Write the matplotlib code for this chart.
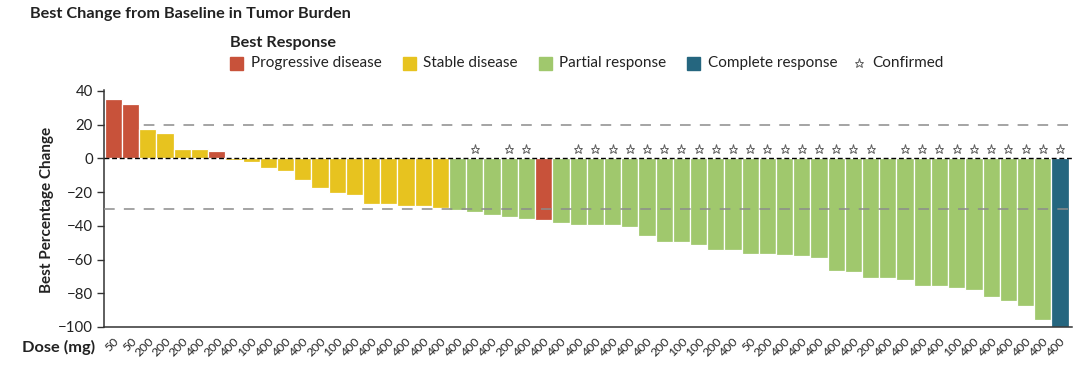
import matplotlib
matplotlib.use("Agg")
import matplotlib.pyplot as plt
from matplotlib.patches import Rectangle
from matplotlib.lines import Line2D

plt.rcParams['font.family'] = ['Lato', 'DejaVu Sans']

# ---- data ----
doses = ["50", "50", "200", "200", "200", "400", "200", "400", "100", "400",
         "400", "400", "200", "100", "400", "400", "400", "400", "400", "400",
         "400", "400", "400", "200", "400", "400", "400", "400", "400", "400",
         "400", "400", "200", "100", "100", "200", "400", "50", "200", "400",
         "400", "400", "400", "400", "200", "400", "400", "400", "400", "100",
         "400", "400", "400", "400", "400", "400"]

change = [35, 32, 17.5, 15, 5.7, 5.3, 4.3, -1.2, -2.4, -5.5,
          -7.8, -12.7, -17.5, -20.8, -21.8, -26.9, -27.3, -28.2, -28.2, -29.6,
          -30.7, -32, -33.8, -34.5, -35.7, -36.7, -38.5, -39.3, -39.3, -39.7,
          -40.5, -45.8, -49.4, -49.8, -51.6, -54.2, -54.2, -56.5, -56.5, -57.2,
          -58.2, -59.2, -66.7, -67.1, -70.7, -70.7, -72.4, -75.4, -75.8, -76.8,
          -78.0, -82.0, -84.5, -87.7, -95.8, -100]

response = ["PD", "PD", "SD", "SD", "SD", "SD", "PD", "SD", "SD", "SD",
            "SD", "SD", "SD", "SD", "SD", "SD", "SD", "SD", "SD", "SD",
            "PR", "PR", "PR", "PR", "PR", "PD", "PR", "PR", "PR", "PR",
            "PR", "PR", "PR", "PR", "PR", "PR", "PR", "PR", "PR", "PR",
            "PR", "PR", "PR", "PR", "PR", "PR", "PR", "PR", "PR", "PR",
            "PR", "PR", "PR", "PR", "PR", "CR"]

confirmed = [0, 0, 0, 0, 0, 0, 0, 0, 0, 0,
             0, 0, 0, 0, 0, 0, 0, 0, 0, 0,
             0, 1, 0, 1, 1, 0, 0, 1, 1, 1,
             1, 1, 1, 1, 1, 1, 1, 1, 1, 1,
             1, 1, 1, 1, 1, 0, 1, 1, 1, 1,
             1, 1, 1, 1, 1, 1]

resp_labels = {"PD": "Progressive disease", "SD": "Stable disease",
               "PR": "Partial response", "CR": "Complete response"}
resp_colors = {"PD": "#C8523A", "SD": "#E7C31F", "PR": "#A0C86D", "CR": "#25667F"}

yticks = [40, 20, 0, -20, -40, -60, -80, -100]

# ---- figure ----
W, H = 1080, 366
fig = plt.figure(figsize=(W / 100, H / 100), dpi=100)

def fx(px):
    return px / W

def fy(py):
    return 1 - py / H

ax = fig.add_axes([fx(104), fy(327), fx(1072) - fx(104), fy(90) - fy(327)])

x = list(range(len(change)))
colors = [resp_colors[r] for r in response]
ax.bar(x, change, width=1.0, color=colors, edgecolor='white', linewidth=0.9, zorder=2)

ax.axhline(20, color='#8c8c8c', lw=1.1, dashes=(7, 6), zorder=1)
ax.axhline(-30, color='#8c8c8c', lw=1.1, dashes=(7, 6), zorder=3)
ax.axhline(0, color='black', lw=1.0, dashes=(3.5, 2), zorder=3)

star_x = [i for i, c in enumerate(confirmed) if c]
ax.plot(star_x, [5.5] * len(star_x), ls='none', marker='*', ms=6.5,
        mfc='white', mec='#5f5f5f', mew=0.7, zorder=4)

ax.set_xlim(-0.55, 55.7)
ax.set_ylim(-100, 40.5)
ax.set_yticks(yticks)
ax.set_yticklabels([str(v).replace('-', '\u2212') for v in yticks], fontsize=10.8, color='#222222')
ax.set_xticks(x)
ax.set_xticklabels(doses, rotation=45, ha='right', va='top', fontsize=8.8,
                   color='#222222', rotation_mode='anchor')
ax.tick_params(axis='x', length=0, pad=6)
ax.tick_params(axis='y', length=5, width=1, color='#333333', pad=3)
for s in ['top', 'right']:
    ax.spines[s].set_visible(False)
ax.spines['left'].set_color('#333333')
ax.spines['bottom'].set_color('#333333')
ax.spines['left'].set_linewidth(1.1)
ax.spines['bottom'].set_linewidth(1.1)

# ---- texts ----
fig.text(fx(30), fy(14), "Best Change from Baseline in Tumor Burden",
         fontsize=11.7, fontweight='bold', color='#222222', va='center', ha='left')
fig.text(fx(47), fy(210), "Best Percentage Change", rotation=90,
         fontsize=11, fontweight='bold', color='#222222', va='center', ha='center')
fig.text(fx(22), fy(347), "Dose (mg)", fontsize=11.8, fontweight='bold',
         color='#222222', va='center', ha='left')

# legend
fig.text(fx(230), fy(43), "Best Response", fontsize=11.7, fontweight='bold',
         color='#222222', va='center', ha='left')
leg_items = [("PD", 230, 251), ("SD", 403, 423), ("PR", 539, 559), ("CR", 687, 708)]
for key, sx, tx in leg_items:
    fig.patches.append(Rectangle((fx(sx), fy(70)), fx(13), 13 / H,
                                 transform=fig.transFigure, color=resp_colors[key]))
    fig.text(fx(tx), fy(63), resp_labels[key], fontsize=11, color='#222222',
             va='center', ha='left')
fig.lines.append(Line2D([fx(859)], [fy(63)], transform=fig.transFigure, ls='none',
                        marker='*', ms=6.5, mfc='white', mec='#5f5f5f', mew=0.7))
fig.text(fx(872), fy(63), "Confirmed", fontsize=11, color='#222222',
         va='center', ha='left')

fig.savefig("out.png", dpi=100)
